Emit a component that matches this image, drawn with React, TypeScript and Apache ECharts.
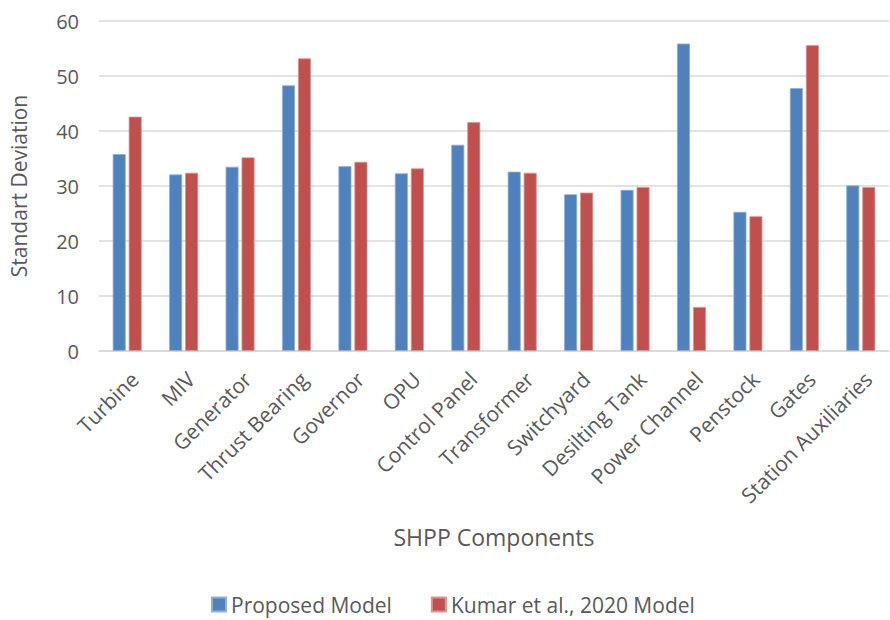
import React, { useEffect, useRef } from "react";
import * as echarts from "echarts";

const categories = [
  "Turbine", "MIV", "Generator", "Thrust Bearing", "Governor", "OPU", "Control Panel",
  "Transformer", "Switchyard", "Desilting Tank", "Power Channel", "Penstock", "Gates", "Station Auxiliaries",
];
const proposed = [35.8, 32.1, 33.5, 48.3, 33.6, 32.3, 37.5, 32.6, 28.5, 29.3, 55.9, 25.3, 47.8, 30.1];
const kumar = [42.6, 32.4, 35.2, 53.2, 34.4, 33.2, 41.6, 32.4, 28.8, 29.8, 8.0, 24.5, 55.6, 29.8];
const yTicks = [0, 10, 20, 30, 40, 50, 60];

const FONT = "'Open Sans', 'Noto Sans', sans-serif";
const TXT = "#595959";

export default function App() {
  const ref = useRef<HTMLDivElement>(null);
  useEffect(() => {
    document.body.style.margin = "0";
    const chart = echarts.init(ref.current!, null, { renderer: "svg" });
    chart.setOption({
      animation: false,
      textStyle: { fontFamily: FONT },
      grid: { left: 90, right: 1, top: 21, bottom: 269, containLabel: false },
      legend: {
        bottom: 0,
        left: 206,
        itemWidth: 14,
        itemHeight: 14,
        itemGap: 39,
        icon: "rect",
        textStyle: { color: TXT, fontSize: 21, fontFamily: FONT },
        data: ["Proposed Model", "Kumar et al., 2020 Model"],
      },
      xAxis: {
        type: "category",
        data: categories,
        name: "SHPP Components",
        nameLocation: "middle",
        nameGap: 174,
        nameTextStyle: { color: TXT, fontSize: 23, fontFamily: FONT },
        axisLine: { lineStyle: { color: "#d9d9d9", width: 1.5 } },
        axisTick: { show: false },
        axisLabel: {
          rotate: 45,
          color: TXT,
          fontSize: 21,
          margin: 17,
          interval: 0,
          verticalAlign: "top",
          fontFamily: FONT,
        },
      },
      yAxis: {
        type: "value",
        min: yTicks[0],
        max: yTicks[yTicks.length - 1],
        interval: 10,
        name: "Standart Deviation",
        nameLocation: "middle",
        nameGap: 70,
        nameTextStyle: { color: TXT, fontSize: 21, fontFamily: FONT },
        axisLine: { show: false },
        axisTick: { show: false },
        axisLabel: { color: TXT, fontSize: 20, margin: 20, fontFamily: FONT },
        splitLine: { lineStyle: { color: "#d9d9d9", width: 1.5 } },
      },
      series: [
        {
          name: "Proposed Model",
          type: "bar",
          data: proposed,
          barWidth: 13,
          barGap: "23%",
          itemStyle: { color: "#4f81bd", borderColor: "#8fb0da", borderWidth: 0.8 },
        },
        {
          name: "Kumar et al., 2020 Model",
          type: "bar",
          data: kumar,
          barWidth: 13,
          barGap: "23%",
          itemStyle: { color: "#c0504d", borderColor: "#dc9391", borderWidth: 0.8 },
        },
      ],
    });
    return () => chart.dispose();
  }, []);
  return <div ref={ref} style={{ width: 890, height: 620 }} />;
}
